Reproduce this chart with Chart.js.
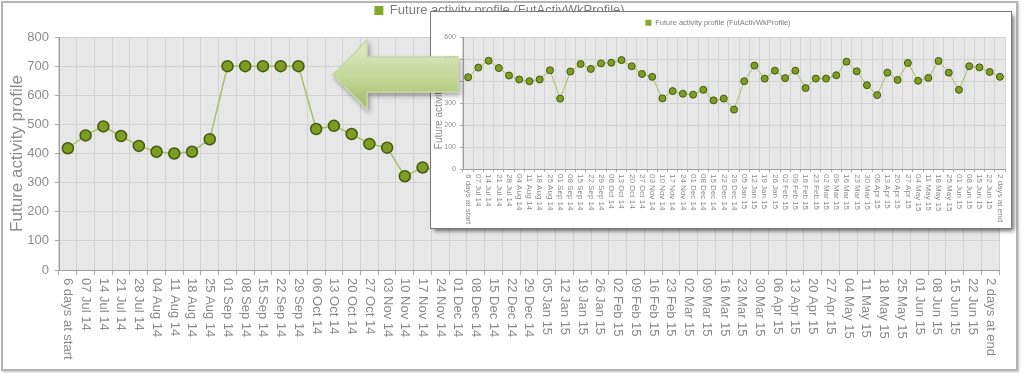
<!DOCTYPE html>
<html>
<head>
<meta charset="utf-8">
<script src="https://cdn.jsdelivr.net/npm/chart.js@4.4.0/dist/chart.umd.min.js"></script>
<style>
  html, body { margin: 0; padding: 0; background: #fff; width: 1024px; height: 374px; overflow: hidden; }
  #frame { position: absolute; left: 1px; top: 1px; width: 1017px; height: 370px; box-sizing: border-box;
           border: 2px solid #b4b4b4; box-shadow: 1px 1px 2px rgba(0,0,0,0.25); }
  #main { position: absolute; left: 0; top: 0; }
  #insetBox { position: absolute; left: 431px; top: 12px; width: 580px; height: 216px; background: #fff;
              box-shadow: 0 0 0 1px #7a7a7a, 3px 3px 4px rgba(0,0,0,0.55); }
  #inset { position: absolute; left: 0; top: 0; }
  #arrow { position: absolute; left: 0; top: 0; pointer-events: none; }
</style>
</head>
<body>
<div id="frame"></div>
<canvas id="main" width="1024" height="374"></canvas>
<div id="insetBox"><canvas id="inset" width="580" height="216"></canvas></div>
<svg id="arrow" width="1024" height="374">
  <defs>
    <linearGradient id="ag" x1="0" y1="0" x2="0" y2="1">
      <stop offset="0" stop-color="#e2ebcb"/>
      <stop offset="0.55" stop-color="#c4d698"/>
      <stop offset="1" stop-color="#a2ba66"/>
    </linearGradient>
    <filter id="sh" x="-20%" y="-20%" width="140%" height="150%">
      <feDropShadow dx="2" dy="3" stdDeviation="2.5" flood-color="#000" flood-opacity="0.35"/>
    </filter>
  </defs>
  <path d="M333,75 L367,40 L367,57 L458,57 L458,92 L367,92 L367,109 Z"
        fill="url(#ag)" stroke="#c6d6a0" stroke-width="1.5" filter="url(#sh)"/>
</svg>
<script>
const categories = ["6 days at start","07 Jul 14","14 Jul 14","21 Jul 14","28 Jul 14","04 Aug 14","11 Aug 14","18 Aug 14","25 Aug 14",
  "01 Sep 14","08 Sep 14","15 Sep 14","22 Sep 14","29 Sep 14","06 Oct 14","13 Oct 14","20 Oct 14","27 Oct 14",
  "03 Nov 14","10 Nov 14","17 Nov 14","24 Nov 14","01 Dec 14","08 Dec 14","15 Dec 14","22 Dec 14","29 Dec 14",
  "05 Jan 15","12 Jan 15","19 Jan 15","26 Jan 15","02 Feb 15","09 Feb 15","16 Feb 15","23 Feb 15",
  "02 Mar 15","09 Mar 15","16 Mar 15","23 Mar 15","30 Mar 15","06 Apr 15","13 Apr 15","20 Apr 15","27 Apr 15",
  "04 May 15","11 May 15","18 May 15","25 May 15","01 Jun 15","08 Jun 15","15 Jun 15","22 Jun 15","2 days at end"];

const mainValues = [418,462,493,460,426,406,400,406,449,700,700,700,700,700,484,495,467,433,420,322,352,
  342,338,360,312,320,270,399,470,411,447,413,447,368,411,411,426,488,444,381,336,438,405,482,401,414,491,438,360,467,462,441,419];

const insetValues = [417,461,492,459,425,407,399,407,449,320,443,477,455,480,483,495,467,432,419,321,354,
  342,338,360,312,320,270,399,470,411,447,413,447,368,411,411,426,488,444,381,336,438,405,482,401,414,491,438,360,467,462,441,419];

const seriesName = "Future activity profile (FutActivWkProfile)";
const yTitle = "Future activity profile";
const mainYMax = 800;
const insetYMax = 600;

Chart.defaults.font.family = '"Liberation Sans", Arial, Helvetica, sans-serif';
Chart.defaults.color = '#8c8c8c';

const plotBg = {
  id: 'plotBg',
  beforeDraw(chart, args, opts) {
    const a = chart.chartArea, ctx = chart.ctx;
    ctx.save();
    ctx.fillStyle = opts.color;
    ctx.fillRect(a.left, a.top, a.right - a.left, a.bottom - a.top);
    ctx.restore();
  }
};

const vLabels = {
  id: 'vLabels',
  afterDraw(chart, args, opts) {
    const s = chart.scales.x, ctx = chart.ctx;
    ctx.save();
    ctx.font = opts.size + 'px "Liberation Sans", Arial, Helvetica, sans-serif';
    ctx.fillStyle = opts.color;
    ctx.textAlign = 'left';
    ctx.textBaseline = 'middle';
    chart.data.labels.forEach((lab, i) => {
      const x = s.getPixelForValue(i);
      ctx.save();
      ctx.translate(x, s.top + opts.gap);
      ctx.rotate(Math.PI / 2);
      ctx.fillText(lab, 0, 0);
      ctx.restore();
    });
    ctx.restore();
  }
};

function makeChart(id, values, cfg) {
  return new Chart(document.getElementById(id), {
    type: 'line',
    data: {
      labels: categories,
      datasets: [{
        label: seriesName,
        data: values,
        xAxisID: 'x',
        yAxisID: 'y',
        borderColor: '#a8c166',
        backgroundColor: '#86a82b',
        borderWidth: cfg.lineWidth,
        pointRadius: cfg.pointRadius,
        pointBackgroundColor: '#7f9d22',
        pointBorderColor: '#44590f',
        pointBorderWidth: cfg.pointBorder,
        tension: 0
      }]
    },
    plugins: [plotBg, vLabels],
    options: {
      responsive: false,
      animation: false,
      events: [],
      layout: { padding: cfg.padding },
      plugins: {
        plotBg: { color: '#e7e7e7' },
        vLabels: { size: cfg.xFont, color: '#8a8a8a', gap: cfg.xGap },
        tooltip: { enabled: false },
        legend: {
          display: true,
          position: 'top',
          labels: {
            boxWidth: cfg.box, boxHeight: cfg.box,
            padding: cfg.legendPad,
            color: '#7c7c7c',
            font: { size: cfg.legendFont },
            generateLabels: (chart) => [{
              text: seriesName, fillStyle: '#86a82b', strokeStyle: '#86a82b', lineWidth: 0,
              fontColor: '#7c7c7c', hidden: false, datasetIndex: 0
            }]
          }
        }
      },
      scales: {
        x: {
          type: 'category',
          offset: true,
          grid: { color: '#d2d2d2', offset: true, tickLength: cfg.xTick, tickColor: '#a8a8a8' },
          border: { color: '#a0a0a0' },
          ticks: { display: false },
          afterFit(s) { s.height = cfg.xHeight; }
        },
        xTop: {
          type: 'category', position: 'top', display: true, offset: true,
          grid: { display: false }, ticks: { display: false }, border: { display: false },
          afterFit(s) { s.height = cfg.topGap; }
        },
        y: {
          min: 0, max: cfg.yMax,
          ticks: { stepSize: 100, padding: cfg.yPad, color: '#8c8c8c', font: { size: cfg.yFont } },
          grid: { color: '#d2d2d2', tickLength: cfg.yTick, tickColor: '#a8a8a8' },
          border: { color: '#a0a0a0' },
          title: { display: true, text: yTitle, color: '#8c8c8c', font: { size: cfg.titleFont },
                   padding: { top: cfg.titlePad, bottom: 0 } },
          afterFit(s) { s.width = cfg.yWidth; }
        }
      }
    }
  });
}

makeChart('main', mainValues, {
  lineWidth: 1.5, pointRadius: 5.5, pointBorder: 1.5,
  padding: { top: 0, left: 0, right: 25, bottom: 0 },
  xFont: 13, xGap: 8, box: 9, legendPad: 4, legendFont: 13, topGap: 10,
  xTick: 5, xHeight: 104, yMax: mainYMax, yPad: 6, yFont: 13, yTick: 4,
  titleFont: 17, titlePad: 7, yWidth: 59
});

makeChart('inset', insetValues, {
  lineWidth: 1, pointRadius: 3.5, pointBorder: 1,
  padding: { top: 1, left: 0, right: 6, bottom: 0 },
  xFont: 8, xGap: 5, box: 6, legendPad: 6, legendFont: 7.5, topGap: 0.5,
  xTick: 3, xHeight: 59, yMax: insetYMax, yPad: 4, yFont: 7, yTick: 3,
  titleFont: 10, titlePad: 2, yWidth: 32
});
</script>
</body>
</html>
